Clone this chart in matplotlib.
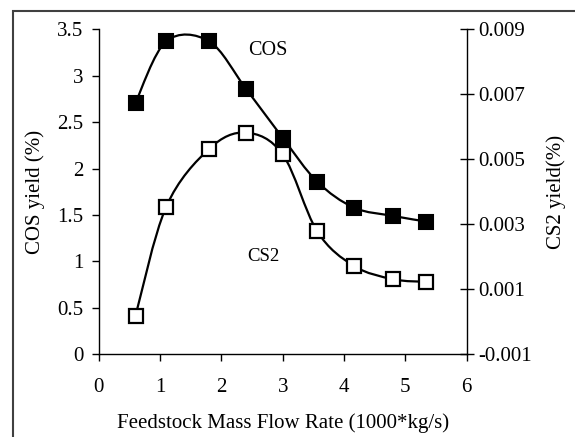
import numpy as np
import matplotlib
matplotlib.use("Agg")
import matplotlib.pyplot as plt
from matplotlib.path import Path
from matplotlib.patches import PathPatch, Rectangle

plt.rcParams['font.family'] = ['Liberation Serif', 'DejaVu Serif']

# Data
flow = [0.6, 1.1, 1.8, 2.4, 3.0, 3.56, 4.16, 4.8, 5.34]
cos_yield = [2.71, 3.37, 3.37, 2.86, 2.33, 1.86, 1.58, 1.49, 1.43]
cs2_yield = [0.00019, 0.00354, 0.00532, 0.00582, 0.00515, 0.00279, 0.00172, 0.00131, 0.00123]


def smooth_path(x, y):
    # Excel-style smoothed line: cubic Bezier segments with Catmull-Rom control points
    x = np.asarray(x, float)
    y = np.asarray(y, float)
    verts = [(x[0], y[0])]
    codes = [Path.MOVETO]
    n = len(x)
    for i in range(n - 1):
        i0 = max(i - 1, 0)
        i3 = min(i + 2, n - 1)
        c1 = (x[i] + (x[i + 1] - x[i0]) / 6, y[i] + (y[i + 1] - y[i0]) / 6)
        c2 = (x[i + 1] - (x[i3] - x[i]) / 6, y[i + 1] - (y[i3] - y[i]) / 6)
        verts += [c1, c2, (x[i + 1], y[i + 1])]
        codes += [Path.CURVE4] * 3
    return Path(verts, codes)


fs = 15

fig = plt.figure(figsize=(5.75, 4.37), dpi=100)
ax = fig.add_axes([0.1717, 0.1892, 0.64, 0.7438])
ax2 = ax.twinx()

# outer chart frame (cut off on right and bottom like the source)
fig.patches.append(Rectangle((13 / 575, -0.1), 1.2, 1 - 11 / 437 + 0.1,
                             transform=fig.transFigure, fill=False,
                             edgecolor='#404040', linewidth=1.5))

ax.add_patch(PathPatch(smooth_path(flow, cos_yield), fill=False, color='black', lw=1.6, zorder=2))
ax.plot(flow, cos_yield, ls='none', marker='s', ms=10, mfc='black', mec='black', mew=1.5, zorder=3)

ax2.add_patch(PathPatch(smooth_path(flow, cs2_yield), fill=False, color='black', lw=1.6, zorder=2))
ax2.plot(flow, cs2_yield, ls='none', marker='s', ms=10, mfc='white', mec='black', mew=1.6, zorder=3)

ax.set_xlim(0, 6)
ax.set_ylim(0, 3.5)
ax2.set_ylim(-0.001, 0.009)
ax.set_xticks(range(7))
ax.set_yticks(np.arange(0, 3.51, 0.5))
ax.set_yticklabels(['0', '0.5', '1', '1.5', '2', '2.5', '3', '3.5'])
ax2.set_yticks([-0.001, 0.001, 0.003, 0.005, 0.007, 0.009])
ax2.set_yticklabels(['-0.001', '0.001', '0.003', '0.005', '0.007', '0.009'])

for a in (ax, ax2):
    a.spines['top'].set_visible(False)
    a.patch.set_visible(False)
ax.spines['right'].set_visible(False)
ax2.spines['left'].set_visible(False)
ax2.spines['bottom'].set_visible(False)
for s in ['left', 'bottom']:
    ax.spines[s].set_linewidth(1.0)
ax2.spines['right'].set_linewidth(1.0)

ax.tick_params(axis='both', direction='out', length=5, width=1, labelsize=fs)
ax.tick_params(axis='y', pad=6)
ax.tick_params(axis='x', pad=12)
ax2.tick_params(axis='y', direction='inout', length=10, width=1, labelsize=fs, pad=3)

ax.set_xlabel('Feedstock Mass Flow Rate (1000*kg/s)', fontsize=fs, labelpad=12)
ax.set_ylabel('COS yield (%)', fontsize=fs, labelpad=9)
ax2.set_ylabel('CS2 yield(%)', fontsize=fs, labelpad=11)

ax.text(2.76, 3.27, 'COS', fontsize=14.5, ha='center', va='center')
ax.text(2.68, 1.05, 'CS2', fontsize=13.5, ha='center', va='center')

fig.savefig('out.png', dpi=100)
